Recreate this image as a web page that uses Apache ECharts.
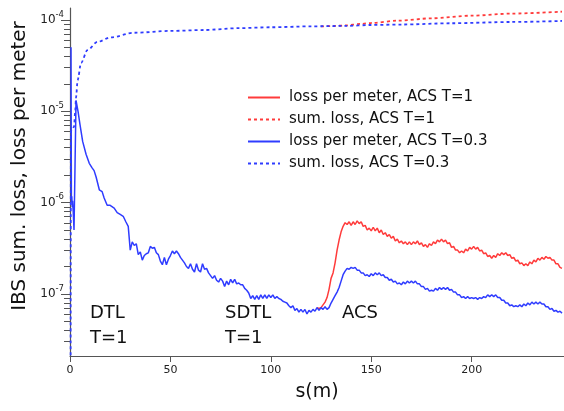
<!DOCTYPE html>
<html><head><meta charset="utf-8">
<script src="https://cdn.jsdelivr.net/npm/echarts@6/dist/echarts.min.js"></script>
<style>html,body{margin:0;padding:0;background:#fff}#c{width:564px;height:411px}</style>
</head><body><div id="c"></div>
<script>
// All loss values are stored as log10(loss).
// s positions (m) for "loss per meter, ACS T=0.3"
const sLossT03 = [0.5,0.7,0.9,1.1,1.3,1.6,2.0,2.5,3.0,4.0,5.0,6.3,8.0,9.6,11,12,13,14.6,16,17,18.5,20,22,23.5,25,26.5,27.8,29,
30,31,32,33,34,35,36,37,38,39,40,41,42,43,44,45,46,47,48,49,50,51,52,53,54,55,56,57,58,59,
60,61,62,63,64,65,66,67,68,69,70,71,72,73,74,75,76,77,78,79,80,81,82,83,84,85,86,87,88,89,
90,91,92,93,94,95,96,97,98,99,100,101,102,103,104,105,106,107,108,109,110,111,112,113,114,115,116,117,118,119,
120,121,122,123,124,125,126,127,128,129,130,131,132,133,134,135,136,137,138,139,140,141,142,143,144,145,146,147,148,149,
150,151,152,153,154,155,156,157,158,159,160,161,162,163,164,165,166,167,168,169,170,171,172,173,174,175,176,177,178,179,
180,181,182,183,184,185,186,187,188,189,190,191,192,193,194,195,196,197,198,199,200,201,202,203,204,205,206,207,208,209,
210,211,212,213,214,215,216,217,218,219,220,221,222,223,224,225,226,227,228,229,230,231,232,233,234,235,236,237,238,239,
240,241,242,243,244,245];
const lossT03 = [-4.30,-6.00,-5.93,-6.05,-5.98,-6.10,-6.30,-5.60,-4.88,-5.00,-5.15,-5.33,-5.47,-5.57,-5.62,-5.65,-5.72,-5.86,-5.88,-5.95,-6.03,-6.03,-6.06,-6.11,-6.13,-6.15,-6.21,-6.26,
-6.52,-6.43,-6.47,-6.45,-6.57,-6.54,-6.63,-6.58,-6.56,-6.55,
-6.48,-6.50,-6.49,-6.55,-6.57,-6.64,-6.68,-6.60,-6.68,-6.62,
-6.58,-6.53,-6.56,-6.53,-6.56,-6.60,-6.63,-6.66,-6.70,-6.72,
-6.67,-6.73,-6.76,-6.67,-6.74,-6.76,-6.67,-6.73,-6.72,-6.77,
-6.80,-6.83,-6.80,-6.85,-6.87,-6.83,-6.86,-6.92,-6.86,-6.90,
-6.84,-6.88,-6.84,-6.89,-6.88,-6.90,-6.90,-6.94,-6.96,-6.99,
-7.05,-7.02,-7.06,-7.02,-7.06,-7.01,-7.05,-7.01,-7.05,-7.01,
-7.04,-7.01,-7.05,-7.03,-7.05,-7.06,-7.08,-7.09,-7.10,-7.13,
-7.15,-7.13,-7.18,-7.16,-7.20,-7.17,-7.20,-7.17,-7.22,-7.18,
-7.20,-7.17,-7.19,-7.15,-7.18,-7.15,-7.17,-7.14,-7.17,-7.15,
-7.10,-7.06,-7.02,-6.98,-6.93,-6.86,-6.79,-6.75,-6.72,-6.73,
-6.71,-6.72,-6.71,-6.74,-6.74,-6.77,-6.77,-6.80,-6.79,-6.81,
-6.78,-6.80,-6.77,-6.79,-6.77,-6.80,-6.79,-6.82,-6.82,-6.85,
-6.84,-6.87,-6.86,-6.89,-6.88,-6.90,-6.87,-6.89,-6.86,-6.88,
-6.86,-6.88,-6.86,-6.89,-6.89,-6.92,-6.92,-6.95,-6.94,-6.97,
-6.96,-6.97,-6.94,-6.96,-6.93,-6.95,-6.93,-6.95,-6.93,-6.96,
-6.95,-6.98,-6.98,-7.01,-7.01,-7.04,-7.03,-7.05,-7.03,-7.05,
-7.04,-7.05,-7.04,-7.06,-7.04,-7.05,-7.03,-7.04,-7.01,-7.03,
-7.01,-7.03,-7.01,-7.04,-7.04,-7.07,-7.07,-7.10,-7.10,-7.13,
-7.12,-7.14,-7.13,-7.14,-7.12,-7.14,-7.11,-7.13,-7.10,-7.12,
-7.09,-7.11,-7.09,-7.11,-7.09,-7.11,-7.11,-7.14,-7.14,-7.17,
-7.16,-7.19,-7.18,-7.20,-7.19,-7.21];

// s positions (m) for "loss per meter, ACS T=1"
const sLossT1 = [123,124,125,126,127,128,129,130,131,132,133,134,135,136,137,138,139,140,141,142,143,144,145,146,147,148,149,
150,151,152,153,154,155,156,157,158,159,160,161,162,163,164,165,166,167,168,169,170,171,172,173,174,175,176,177,178,179,
180,181,182,183,184,185,186,187,188,189,190,191,192,193,194,195,196,197,198,199,200,201,202,203,204,205,206,207,208,209,
210,211,212,213,214,215,216,217,218,219,220,221,222,223,224,225,226,227,228,229,230,231,232,233,234,235,236,237,238,239,
240,241,242,243,244,245];
const lossT1 = [-7.15,-7.16,-7.15,-7.12,-7.09,-7.04,-6.95,
-6.83,-6.77,-6.66,-6.52,-6.41,-6.32,-6.26,-6.22,-6.24,-6.21,
-6.25,-6.21,-6.24,-6.20,-6.23,-6.21,-6.26,-6.25,-6.30,-6.28,
-6.31,-6.27,-6.31,-6.28,-6.33,-6.30,-6.35,-6.33,-6.37,-6.35,
-6.39,-6.37,-6.42,-6.40,-6.44,-6.42,-6.45,-6.43,-6.46,-6.43,
-6.46,-6.43,-6.45,-6.42,-6.46,-6.44,-6.48,-6.46,-6.49,-6.45,
-6.47,-6.43,-6.45,-6.41,-6.43,-6.40,-6.43,-6.41,-6.45,-6.44,
-6.49,-6.48,-6.52,-6.52,-6.55,-6.53,-6.55,-6.51,-6.53,-6.49,
-6.51,-6.48,-6.51,-6.49,-6.53,-6.52,-6.56,-6.55,-6.59,-6.58,
-6.61,-6.58,-6.60,-6.56,-6.58,-6.55,-6.57,-6.55,-6.58,-6.57,
-6.61,-6.60,-6.64,-6.63,-6.67,-6.66,-6.69,-6.67,-6.69,-6.65,
-6.67,-6.63,-6.65,-6.61,-6.63,-6.60,-6.62,-6.59,-6.61,-6.60,
-6.63,-6.63,-6.67,-6.67,-6.71,-6.72];

// summed loss (log10)
const sSumT03 = [0.3,0.45,1.0,2.0,2.6,3.0,3.8,5.5,8.7,13.7,20.4,32,50,66.7,84,100,120,137,150,165,190,220,245];
const sumT03 = [-8.0,-5.22,-5.20,-5.17,-5.00,-4.85,-4.66,-4.47,-4.33,-4.24,-4.19,-4.14,-4.12,-4.11,-4.09,-4.08,-4.07,-4.065,-4.055,-4.05,-4.036,-4.022,-4.011];
const sSumT1 = [125,130,137,145,150,163.5,180,200,220,245];
const sumT1 = [-4.07,-4.068,-4.06,-4.043,-4.033,-4.007,-3.982,-3.953,-3.93,-3.909];

const seriesNames = ['loss per meter, ACS T=1','sum. loss, ACS T=1','loss per meter, ACS T=0.3','sum. loss, ACS T=0.3'];
const decadeTicks = [-7,-6,-5,-4];
const xTicks = [0,50,100,150,200];

const RED = '#ff3b3b', BLUE = '#2f3cff';
const FONT = 'DejaVu Sans';
const YMIN = -7.68, YMAX = -3.869;
const zip = (a,b) => a.map((v,i)=>[v,b[i]]);
// tick positions of a log axis: k * 10^n, k = 1..9
const allTicks = [];
for (let n=-8;n<=-4;n++) for (let k=1;k<=9;k++) { const v=Math.log10(k)+n; if (v>YMIN && v<YMAX) allTicks.push(v); }
const isDecade = v => Math.abs(v - Math.round(v)) < 1e-6;

const chart = echarts.init(document.getElementById('c'));
const axisCol = '#555';
chart.setOption({
  animation:false,
  backgroundColor:'#fff',
  grid:{left:70,right:0,top:8,bottom:55,containLabel:false},
  legend:{
    orient:'vertical',left:242,top:85,itemWidth:32,itemHeight:14,itemGap:7,
    itemStyle:{opacity:0},
    textStyle:{fontFamily:FONT,fontSize:15,color:'#111',lineHeight:14,padding:[0,0,0,4]},
    data:seriesNames
  },
  xAxis:{type:'value',min:0,max:246,
    axisLine:{lineStyle:{color:axisCol,width:1.2}},
    axisTick:{customValues:xTicks,length:6,lineStyle:{color:axisCol}},
    axisLabel:{customValues:xTicks,fontFamily:FONT,fontSize:11,color:'#222',margin:9},
    splitLine:{show:false},
    name:'s(m)',nameLocation:'middle',nameGap:27,
    nameTextStyle:{fontFamily:FONT,fontSize:19,color:'#111'}
  },
  yAxis:[{type:'value',min:YMIN,max:YMAX,
    axisLine:{show:true,lineStyle:{color:axisCol,width:1.2}},
    axisTick:{show:true,customValues:allTicks,length:6,lineStyle:{color:axisCol}},
    axisLabel:{customValues:allTicks,margin:6,hideOverlap:false,
      formatter:v=>isDecade(v)?'{b|10}{s|'+Math.round(v)+'}':'',
      rich:{b:{fontFamily:FONT,fontSize:12,color:'#222',lineHeight:20},
            s:{fontFamily:FONT,fontSize:8.5,color:'#222',verticalAlign:'top',lineHeight:10}}},
    splitLine:{show:false},
    name:'IBS sum. loss, loss per meter',nameLocation:'middle',nameGap:40,
    nameTextStyle:{fontFamily:FONT,fontSize:20,color:'#111',padding:[0,0,0,32]}
  },{type:'value',min:YMIN,max:YMAX,position:'left',offset:9,
    axisLine:{show:true,lineStyle:{color:'#fff',width:0,opacity:0}},
    axisTick:{show:true,inside:true,customValues:decadeTicks,length:9,lineStyle:{color:axisCol}},
    axisLabel:{show:false,customValues:decadeTicks},splitLine:{show:false}}],
  series:[
    {name:seriesNames[0],type:'line',symbol:'none',data:zip(sLossT1,lossT1),lineStyle:{color:RED,width:1.5},itemStyle:{color:RED}},
    {name:seriesNames[1],type:'line',yAxisIndex:1,symbol:'none',smooth:0.3,smoothMonotone:'x',data:zip(sSumT1,sumT1),lineStyle:{color:RED,width:1.8,type:[3,3]},itemStyle:{color:RED}},
    {name:seriesNames[2],type:'line',symbol:'none',data:zip(sLossT03,lossT03),lineStyle:{color:BLUE,width:1.5},itemStyle:{color:BLUE}},
    {name:seriesNames[3],type:'line',yAxisIndex:1,symbol:'none',smooth:0.3,smoothMonotone:'x',data:zip(sSumT03,sumT03),lineStyle:{color:BLUE,width:1.8,type:[3,3]},itemStyle:{color:BLUE}}
  ],
  graphic:[
    {type:'text',left:90,top:304,style:{text:'DTL',fontFamily:FONT,fontSize:18,fill:'#111'}},
    {type:'text',left:90,top:329,style:{text:'T=1',fontFamily:FONT,fontSize:18,fill:'#111'}},
    {type:'text',left:225,top:304,style:{text:'SDTL',fontFamily:FONT,fontSize:18,fill:'#111'}},
    {type:'text',left:225,top:329,style:{text:'T=1',fontFamily:FONT,fontSize:18,fill:'#111'}},
    {type:'text',left:342,top:304,style:{text:'ACS',fontFamily:FONT,fontSize:18,fill:'#111'}}
  ]
});
</script></body></html>
